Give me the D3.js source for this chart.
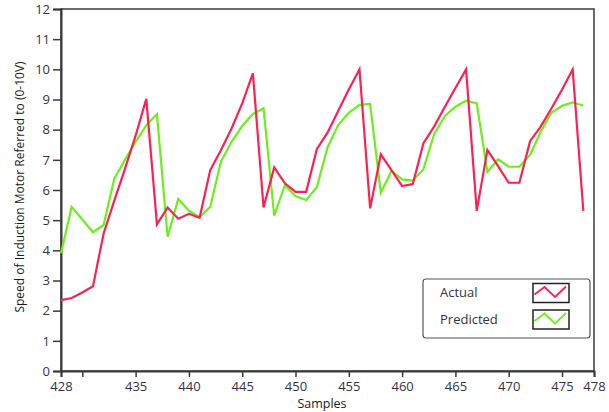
<!DOCTYPE html>
<html>
<head>
<meta charset="utf-8">
<script src="https://cdn.jsdelivr.net/npm/d3@7"></script>
<style>
  html, body { margin: 0; padding: 0; background: #fff; }
  svg { display: block; font-family: "Open Sans", "Noto Sans", sans-serif; }
</style>
</head>
<body>
<svg id="chart" width="609" height="412"></svg>
<script>
// Sample indices and the two speed series (volts, 0-10 V scale)
const samples = d3.range(428, 478);
const actual = [
  2.35, 2.42, 2.6, 2.81, 4.56, 5.65, 6.7, 7.8, 9.02, 4.86,
  5.42, 5.05, 5.21, 5.08, 6.66, 7.32, 8.04, 8.87, 9.87, 5.42,
  6.75, 6.22, 5.94, 5.94, 7.35, 7.9, 8.62, 9.33, 10.0, 5.39,
  7.18, 6.66, 6.13, 6.2, 7.55, 8.1, 8.75, 9.38, 10.0, 5.31,
  7.33, 6.79, 6.24, 6.24, 7.62, 8.1, 8.7, 9.32, 10.0, 5.31
];
const predicted = [
  3.9, 5.44, 5.02, 4.6, 4.84, 6.38, 7.0, 7.6, 8.15, 8.51,
  4.45, 5.7, 5.31, 5.11, 5.44, 6.94, 7.6, 8.12, 8.52, 8.71,
  5.15, 6.16, 5.8, 5.67, 6.09, 7.41, 8.15, 8.56, 8.82, 8.85,
  5.91, 6.63, 6.35, 6.31, 6.69, 7.85, 8.45, 8.76, 8.96, 8.87,
  6.6, 7.02, 6.77, 6.77, 7.16, 7.93, 8.56, 8.79, 8.9, 8.8
];
const xTicks = [428, 430, 435, 440, 445, 450, 455, 460, 465, 470, 475, 478];
const xLabelled = [428, 435, 440, 445, 450, 455, 460, 465, 470, 475, 478];
const yTicks = d3.range(0, 13);
const seriesNames = ["Actual", "Predicted"];
const seriesColors = ["#ff1f52", "#6cf01c"];

const svg = d3.select("#chart");
const plotL = 61, plotR = 594, plotT = 9, plotB = 371;

const x = d3.scaleLinear().domain([428, 478]).range([plotL, plotR]);
const y = d3.scaleLinear().domain([0, 12]).range([plotB, plotT]);

// Plot frame
svg.append("rect")
  .attr("x", plotL).attr("y", plotT)
  .attr("width", plotR - plotL).attr("height", plotB - plotT)
  .attr("fill", "none").attr("stroke", "#3a3a3a").attr("stroke-width", 1.5);

// Axes
const yAxis = d3.axisLeft(y).tickValues(yTicks).tickSize(8).tickPadding(3)
  .tickFormat(d3.format("d"));
const yg = svg.append("g").attr("transform", `translate(${plotL},0)`).call(yAxis);

const xAxis = d3.axisBottom(x).tickValues(xTicks).tickSize(6).tickPadding(5)
  .tickFormat(d => xLabelled.includes(d) ? String(d) : "");
const xg = svg.append("g").attr("transform", `translate(0,${plotB})`).call(xAxis);

[yg, xg].forEach(g => {
  g.select(".domain").attr("stroke", "#3a3a3a").attr("stroke-width", 2);
  g.selectAll(".tick line").attr("stroke", "#3a3a3a").attr("stroke-width", 1.5);
  g.selectAll(".tick text").attr("fill", "#333344").attr("font-size", 13)
    .attr("font-family", "\"Open Sans\", sans-serif");
});

// Axis titles
svg.append("text")
  .attr("transform", "translate(24,187) rotate(-90)")
  .attr("text-anchor", "middle")
  .attr("font-size", 12)
  .attr("fill", "#1a1a1a")
  .text("Speed of Induction Motor Referred to (0-10V)");

svg.append("text")
  .attr("x", 322).attr("y", 408)
  .attr("text-anchor", "middle")
  .attr("font-size", 12.5)
  .attr("fill", "#1a1a1a")
  .text("Samples");

// Series lines
const line = d3.line().x((d, i) => x(samples[i])).y(d => y(d));
[predicted, actual].forEach((vals, k) => {
  svg.append("path")
    .datum(vals)
    .attr("fill", "none")
    .attr("stroke", k === 0 ? seriesColors[1] : seriesColors[0])
    .attr("stroke-width", 2.2)
    .attr("stroke-linejoin", "miter")
    .attr("d", line);
});

// Legend
const lg = svg.append("g");
lg.append("rect")
  .attr("x", 423).attr("y", 279).attr("width", 167).attr("height", 59)
  .attr("rx", 3).attr("fill", "#fff").attr("stroke", "#555").attr("stroke-width", 1.2);

seriesNames.forEach((name, i) => {
  const dy = i * 26.5;
  lg.append("text")
    .attr("x", 440).attr("y", 297 + dy)
    .attr("font-size", 13).attr("fill", "#333344")
    .text(name);
  lg.append("rect")
    .attr("x", 533).attr("y", 283.5 + dy).attr("width", 36).attr("height", 19)
    .attr("fill", "#fff").attr("stroke", "#222").attr("stroke-width", 1.5);
  const zig = [[534.5, 294.5], [544.5, 287], [555, 297], [566, 286.5]]
    .map(p => [p[0], p[1] + dy]);
  lg.append("path")
    .attr("d", d3.line()(zig))
    .attr("fill", "none").attr("stroke", seriesColors[i]).attr("stroke-width", 1.8);
});
</script>
</body>
</html>
